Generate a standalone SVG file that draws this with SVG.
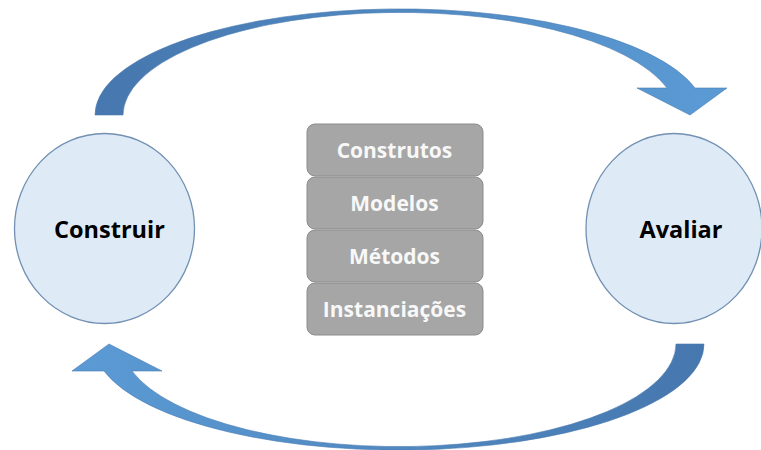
<svg xmlns="http://www.w3.org/2000/svg" width="761" height="450" viewBox="0 0 761 450">
  <defs>
    <linearGradient id="arrowGrad" x1="0" y1="0" x2="1" y2="0">
      <stop offset="0" stop-color="#4677ae"/>
      <stop offset="1" stop-color="#5b9bd5"/>
    </linearGradient>
    <style>
      .circle { fill: #deebf7; stroke: #7290b2; stroke-width: 1.3; }
      .circleText { font-family: "Open Sans", "Liberation Sans", sans-serif; font-weight: bold; font-size: 23.5px; fill: #000; text-anchor: middle; }
      .box { fill: #a6a6a6; stroke: #8c8c8c; stroke-width: 1; }
      .boxText { font-family: "Open Sans", "Liberation Sans", sans-serif; font-weight: bold; font-size: 21px; fill: #f8f8f8; text-anchor: middle; }
      .arrow { fill: url(#arrowGrad); stroke: #4a7bb0; stroke-width: 0.6; }
    </style>
  </defs>
  <rect width="761" height="450" fill="#ffffff"/>

  <g id="connectors">
    <path id="arrow-construir-avaliar" class="arrow" d="M95,115 A305,106 0 0 1 695,88 L727,88 L690,115 L637,88 L667,88 A277,103 0 0 0 123,115 Z"/>
    <g transform="rotate(180 399.5 229.5)">
      <path id="arrow-avaliar-construir" class="arrow" d="M95,115 A305,106 0 0 1 695,88 L727,88 L690,115 L637,88 L667,88 A277,103 0 0 0 123,115 Z"/>
    </g>
  </g>

  <g id="construir">
    <ellipse class="circle" cx="104.5" cy="228.5" rx="90" ry="95"/>
    <text class="circleText" x="109.5" y="237.5">Construir</text>
  </g>

  <g id="avaliar">
    <ellipse class="circle" cx="674" cy="228.5" rx="88" ry="95"/>
    <text class="circleText" x="681" y="237.5">Avaliar</text>
  </g>

  <g id="construtos">
    <rect class="box" x="307" y="124" width="176" height="52" rx="8"/>
    <text class="boxText" x="394.5" y="158">Construtos</text>
  </g>
  <g id="modelos">
    <rect class="box" x="307" y="177" width="176" height="52" rx="8"/>
    <text class="boxText" x="394.5" y="211">Modelos</text>
  </g>
  <g id="metodos">
    <rect class="box" x="307" y="230" width="176" height="52" rx="8"/>
    <text class="boxText" x="394.5" y="264">Métodos</text>
  </g>
  <g id="instanciacoes">
    <rect class="box" x="307" y="283" width="176" height="52" rx="8"/>
    <text class="boxText" x="394.5" y="317">Instanciações</text>
  </g>
</svg>
